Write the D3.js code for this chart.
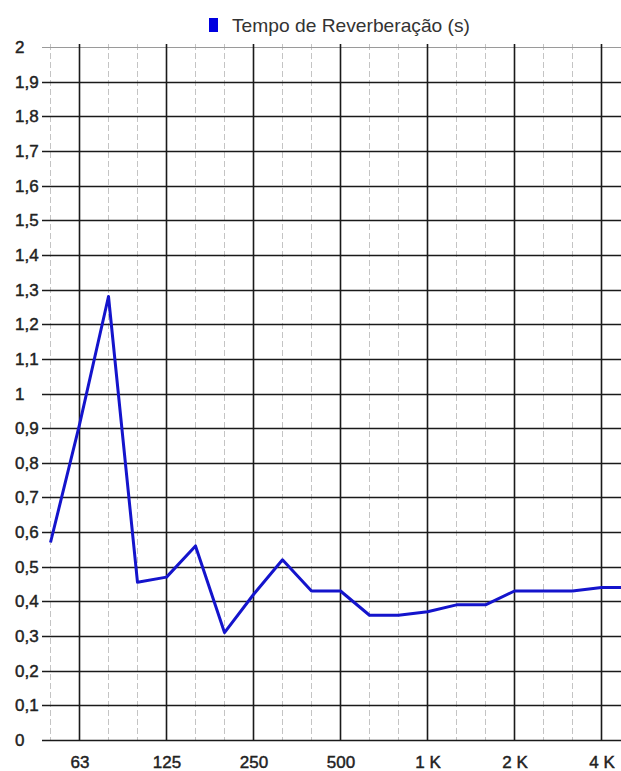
<!DOCTYPE html>
<html>
<head>
<meta charset="utf-8">
<script src="https://cdn.jsdelivr.net/npm/d3@7"></script>
<style>
  body { margin: 0; background: #fff; }
  svg { display: block; font-family: "Liberation Sans", Arial, sans-serif; }
  .lbl { stroke: #222; stroke-width: 0.45px; }
</style>
</head>
<body>
<div id="chart"></div>
<script>
// third-octave bands shown on the x axis
var bands = ["50","63","80","100","125","160","200","250","315","400","500",
             "630","800","1000","1250","1600","2000","2500","3150","4000","5000"];
// reverberation time (s) per band
var rt = [0.57, 0.91, 1.28, 0.455, 0.47, 0.56, 0.31, 0.42, 0.52, 0.43, 0.43,
          0.36, 0.36, 0.37, 0.39, 0.39, 0.43, 0.43, 0.43, 0.44, 0.44];
var octaveBands = ["63","125","250","500","1000","2000","4000"];
var octaveLabels = ["63","125","250","500","1 K","2 K","4 K"];
var yTicks = [0,0.1,0.2,0.3,0.4,0.5,0.6,0.7,0.8,0.9,1,1.1,1.2,1.3,1.4,1.5,1.6,1.7,1.8,1.9,2];
var seriesName = "Tempo de Reverberação (s)";

var width = 621, height = 771;
var plotLeft = 42, plotTop = 47, plotBottom = 740;

var svg = d3.select("#chart").append("svg")
    .attr("width", width)
    .attr("height", height);

var x = d3.scalePoint()
    .domain(bands)
    .range([50.5, 630.5]);

var y = d3.scaleLinear()
    .domain([0, 2])
    .range([plotBottom, plotTop]);

var fmt = function(d) { return String(d).replace(".", ","); };

// vertical grid: dashed for third-octave, solid for octave
svg.append("g").selectAll("line")
  .data(bands.filter(b => octaveBands.indexOf(b) < 0))
  .enter().append("line")
    .attr("x1", d => x(d)).attr("x2", d => x(d))
    .attr("y1", plotTop - 3).attr("y2", plotBottom)
    .attr("stroke", "#c4c4c4")
    .attr("stroke-width", 1)
    .attr("stroke-dasharray", "6,3");

// horizontal grid
svg.append("g").selectAll("line")
  .data(yTicks)
  .enter().append("line")
    .attr("x1", plotLeft).attr("x2", width)
    .attr("y1", d => Math.round(y(d)) + 0.5).attr("y2", d => Math.round(y(d)) + 0.5)
    .attr("stroke", d => d === 2 ? "#9a9a9a" : "#1a1a1a")
    .attr("stroke-width", d => d === 2 ? 1 : 1.6);

svg.append("g").selectAll("line")
  .data(octaveBands)
  .enter().append("line")
    .attr("x1", d => x(d)).attr("x2", d => x(d))
    .attr("y1", plotTop - 3).attr("y2", plotBottom)
    .attr("stroke", "#1a1a1a")
    .attr("stroke-width", 1.6);

// y labels
svg.append("g").selectAll("text")
  .data(yTicks)
  .enter().append("text")
    .attr("class", "lbl")
    .attr("x", 15)
    .attr("y", d => y(d) + 6)
    .attr("font-size", 17)
    .attr("fill", "#222")
    .text(fmt);

// x labels
var xAxis = svg.append("g")
    .attr("transform", "translate(0," + plotBottom + ")")
    .call(d3.axisBottom(x)
      .tickValues(octaveBands)
      .tickSize(0)
      .tickPadding(16)
      .tickFormat((d, i) => octaveLabels[i]));
xAxis.select(".domain").remove();
xAxis.selectAll("text")
    .attr("class", "lbl")
    .attr("font-size", 17)
    .attr("fill", "#222")
    .attr("font-family", "Liberation Sans, Arial, sans-serif");

// line
var line = d3.line()
    .x((d, i) => x(bands[i]))
    .y(d => y(d));

svg.append("path")
    .datum(rt)
    .attr("fill", "none")
    .attr("stroke", "#1414cc")
    .attr("stroke-width", 3)
    .attr("stroke-linejoin", "round")
    .attr("d", line);

// legend
svg.append("rect")
    .attr("x", 209).attr("y", 18)
    .attr("width", 9).attr("height", 14)
    .attr("fill", "#0000e0");
svg.append("text")
    .attr("x", 232).attr("y", 32)
    .attr("font-size", 19)
    .attr("fill", "#333")
    .attr("textLength", 238)
    .attr("lengthAdjust", "spacingAndGlyphs")
    .text(seriesName);
</script>
</body>
</html>
